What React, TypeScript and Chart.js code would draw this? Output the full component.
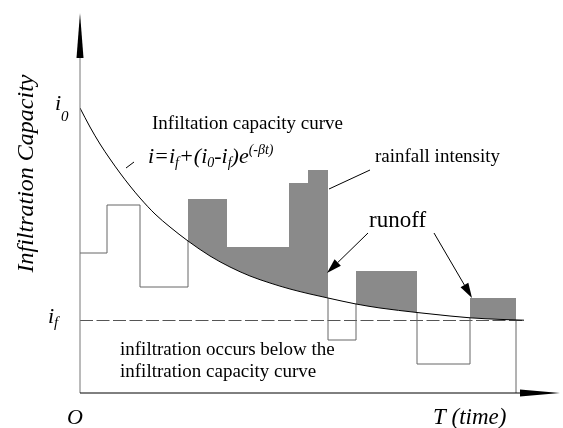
import React, { useEffect, useRef } from "react";
import { Chart, registerables } from "chart.js";

Chart.register(...registerables);

// ---- data (time units, intensity units) ----
const curveT = [0, 1, 2, 3, 4, 5, 6, 7.5, 9, 10.8, 13, 15, 17, 19, 21, 23, 24.8, 27.6, 30, 33.7, 37, 39, 42, 44.4];
const curveI = [28.5, 26.6, 24.9, 23.4, 22.0, 20.7, 19.5, 17.9, 16.6, 15.2, 13.7, 12.6, 11.7, 11.0, 10.4, 9.9, 9.5, 8.9, 8.5, 8.05, 7.7, 7.52, 7.36, 7.28];
const rainEdges = [0, 2.7, 6.0, 10.8, 14.7, 20.9, 22.8, 24.8, 27.6, 33.7, 39.0, 43.6];
const rainValues = [14.0, 18.8, 10.6, 19.4, 14.6, 21.0, 22.3, 5.3, 12.2, 2.9, 9.5];
const finalRate = 7.25; // i_f
const finalRateEnd = 44.5;
const timeMax = 48;
const capMax = 38;

const SERIF = '"Liberation Serif", "Times New Roman", serif';

type Run = { t: string; size: number; dy: number; italic?: boolean };

function drawRuns(ctx: CanvasRenderingContext2D, runs: Run[], x: number, y: number) {
  let cx = x;
  for (const r of runs) {
    ctx.font = `${r.italic === false ? "" : "italic "}${r.size}px ${SERIF}`;
    ctx.fillText(r.t, cx, y + r.dy);
    cx += ctx.measureText(r.t).width;
  }
}

function arrowLine(ctx: CanvasRenderingContext2D, x0: number, y0: number, x1: number, y1: number, headLen: number, headHalf: number) {
  const ang = Math.atan2(y1 - y0, x1 - x0);
  const bx = x1 - headLen * Math.cos(ang);
  const by = y1 - headLen * Math.sin(ang);
  ctx.beginPath();
  ctx.moveTo(x0, y0);
  ctx.lineTo(bx, by);
  ctx.stroke();
  ctx.beginPath();
  ctx.moveTo(x1, y1);
  ctx.lineTo(bx + headHalf * Math.sin(ang), by - headHalf * Math.cos(ang));
  ctx.lineTo(bx - headHalf * Math.sin(ang), by + headHalf * Math.cos(ang));
  ctx.closePath();
  ctx.fill();
}

const clipBelowCurve = {
  id: "clipBelowCurve",
  beforeDatasetDraw(chart: any, args: any) {
    if (args.index !== 2) return;
    const meta = chart.getDatasetMeta(0);
    const line = meta.dataset;
    const pts = meta.data;
    const ctx = chart.ctx;
    const area = chart.chartArea;
    ctx.save();
    if (line.updateControlPoints) line.updateControlPoints(area, "x");
    ctx.beginPath();
    line.path(ctx);
    const last = pts[pts.length - 1];
    ctx.lineTo(last.x + 60, last.y);
    ctx.lineTo(last.x + 60, area.bottom + 10);
    ctx.lineTo(pts[0].x - 10, area.bottom + 10);
    ctx.lineTo(pts[0].x - 10, pts[0].y);
    ctx.closePath();
    ctx.clip();
  },
  afterDatasetDraw(chart: any, args: any) {
    if (args.index !== 2) return;
    chart.ctx.restore();
  },
};

const decorations = {
  id: "decorations",
  afterDatasetsDraw(chart: any) {
    const ctx: CanvasRenderingContext2D = chart.ctx;
    const xs = chart.scales.x;
    const ys = chart.scales.y;
    const area = chart.chartArea;
    const X = (v: number) => xs.getPixelForValue(v);
    const Y = (v: number) => ys.getPixelForValue(v);
    const ox = X(0);
    const oy = Y(0);
    ctx.save();

    // y axis
    ctx.strokeStyle = "#777";
    ctx.lineWidth = 1;
    ctx.beginPath();
    ctx.moveTo(ox, oy);
    ctx.lineTo(ox, area.top + 45);
    ctx.stroke();
    ctx.fillStyle = "#000";
    ctx.beginPath();
    ctx.moveTo(ox, area.top);
    ctx.lineTo(ox - 3.5, area.top + 45);
    ctx.lineTo(ox + 3.5, area.top + 45);
    ctx.closePath();
    ctx.fill();

    // x axis
    ctx.strokeStyle = "#000";
    ctx.beginPath();
    ctx.moveTo(ox, oy);
    ctx.lineTo(area.right - 40, oy);
    ctx.stroke();
    ctx.beginPath();
    ctx.moveTo(area.right, oy);
    ctx.lineTo(area.right - 40, oy - 3.5);
    ctx.lineTo(area.right - 40, oy + 3.5);
    ctx.closePath();
    ctx.fill();

    // leader lines
    ctx.strokeStyle = "#000";
    ctx.lineWidth = 1;
    ctx.beginPath();
    ctx.moveTo(X(4.6), Y(22.5));
    ctx.lineTo(X(5.4), Y(23.1));
    ctx.stroke();
    ctx.beginPath();
    ctx.moveTo(X(29.0), Y(22.3));
    ctx.lineTo(X(24.9), Y(20.4));
    ctx.stroke();

    // runoff arrows
    ctx.fillStyle = "#000";
    arrowLine(ctx, X(28.8), Y(16.0), X(24.7), Y(12.0), 15, 4.5);
    arrowLine(ctx, X(35.4), Y(16.0), X(39.2), Y(9.5), 15, 4.5);

    // texts
    ctx.fillStyle = "#000";
    ctx.textBaseline = "alphabetic";
    ctx.textAlign = "left";

    // y axis title
    ctx.save();
    ctx.translate(33, 173.5);
    ctx.rotate(-Math.PI / 2);
    ctx.textAlign = "center";
    ctx.font = `italic 24px ${SERIF}`;
    ctx.fillText("Infiltration Capacity", 0, 0);
    ctx.restore();

    // i0, if
    drawRuns(ctx, [{ t: "i", size: 22, dy: 0 }, { t: "0", size: 15, dy: 11 }], 55, 110);
    drawRuns(ctx, [{ t: "i", size: 22, dy: 0 }, { t: "f", size: 15, dy: 4 }], 48, 323);

    // O and T (time)
    ctx.font = `italic 22px ${SERIF}`;
    ctx.fillText("O", 67, 424);
    ctx.font = `italic 23px ${SERIF}`;
    ctx.fillText("T (time)", 433, 424);

    // curve label and formula
    ctx.font = `19px ${SERIF}`;
    ctx.fillText("Infiltation capacity curve", 152, 129);
    drawRuns(
      ctx,
      [
        { t: "i=i", size: 22, dy: 0 },
        { t: "f", size: 14, dy: 4 },
        { t: "+(i", size: 22, dy: 0 },
        { t: "0", size: 14, dy: 4 },
        { t: "-i", size: 22, dy: 0 },
        { t: "f", size: 14, dy: 4 },
        { t: ")e", size: 22, dy: 0 },
        { t: "(-βt)", size: 14, dy: -9 },
      ],
      148,
      163
    );

    ctx.font = `19px ${SERIF}`;
    ctx.fillText("rainfall intensity", 375, 162);
    ctx.font = `23px ${SERIF}`;
    ctx.fillText("runoff", 369, 227);
    ctx.font = `19px ${SERIF}`;
    ctx.fillText("infiltration occurs below the", 120, 355);
    ctx.fillText("infiltration capacity curve", 120, 377);

    ctx.restore();
  },
};

export default function App() {
  const ref = useRef<HTMLCanvasElement | null>(null);

  useEffect(() => {
    if (!ref.current) return;
    const curveData = curveT.map((t, i) => ({ x: t, y: curveI[i] }));
    const rainData = rainValues.map((v, i) => ({ x: rainEdges[i], y: v }));
    rainData.push({ x: rainEdges[rainEdges.length - 1], y: 0 });

    const chart = new Chart(ref.current, {
      type: "line",
      data: {
        datasets: [
          {
            label: "capacity",
            data: curveData,
            borderColor: "#000",
            borderWidth: 1,
            pointRadius: 0,
            cubicInterpolationMode: "monotone",
            fill: false,
          } as any,
          {
            label: "runoff",
            data: rainData,
            stepped: true,
            borderColor: "rgba(0,0,0,0)",
            borderWidth: 1,
            pointRadius: 0,
            fill: { target: 0, above: "#8a8a8a", below: "rgba(0,0,0,0)" },
          } as any,
          {
            label: "rainfall",
            data: rainData,
            stepped: true,
            borderColor: "#666",
            borderWidth: 1,
            pointRadius: 0,
            fill: false,
          } as any,
          {
            label: "if",
            data: [
              { x: 0, y: finalRate },
              { x: finalRateEnd, y: finalRate },
            ],
            borderColor: "#555",
            borderWidth: 1,
            borderDash: [13, 3.5],
            pointRadius: 0,
            fill: false,
          } as any,
        ],
      },
      options: {
        animation: false,
        responsive: false,
        devicePixelRatio: 1,
        layout: { padding: { left: 80, right: 3, top: 13, bottom: 35 } },
        scales: {
          x: { type: "linear", min: 0, max: timeMax, display: false },
          y: { type: "linear", min: 0, max: capMax, display: false },
        },
        plugins: {
          legend: { display: false },
          tooltip: { enabled: false },
        },
      },
      plugins: [clipBelowCurve, decorations],
    } as any);
    return () => chart.destroy();
  }, []);

  return (
    <div style={{ position: "fixed", left: 0, top: 0, width: 563, height: 428, background: "#fff" }}>
      <canvas ref={ref} width={563} height={428} style={{ display: "block" }} />
    </div>
  );
}
